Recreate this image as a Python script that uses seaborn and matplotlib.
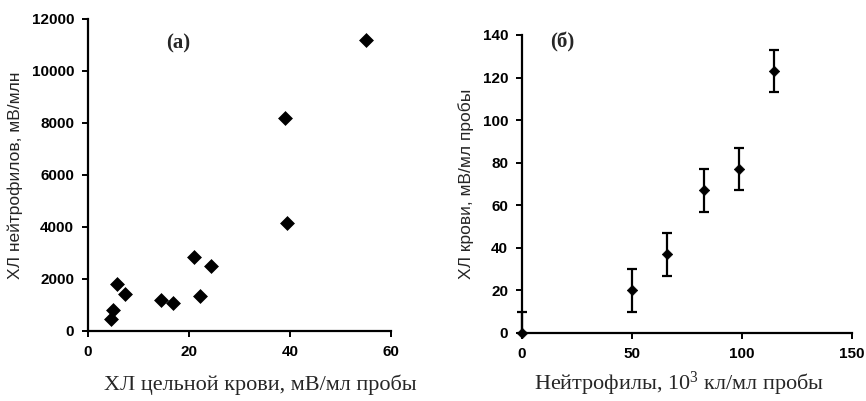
import matplotlib
matplotlib.use("Agg")
import matplotlib.pyplot as plt
import seaborn as sns
import numpy as np
import pandas as pd

# Panel (а): ХЛ цельной крови vs ХЛ нейтрофилов
a_x = [4.6, 4.9, 5.7, 7.4, 14.5, 16.8, 21.0, 22.1, 24.4, 39.0, 39.5, 55.1]
a_y = [475, 800, 1800, 1410, 1210, 1080, 2850, 1360, 2490, 8210, 4160, 11200]

# Panel (б): Нейтрофилы vs ХЛ крови, with error bars
b_x = [0, 50, 66, 82.5, 98.5, 114.5]
b_y = [0, 20, 37, 67, 77, 123]
b_err = [10, 10, 10, 10, 10, 10]

a_xticks = [0, 20, 40, 60]
a_yticks = [0, 2000, 4000, 6000, 8000, 10000, 12000]
b_xticks = [0, 50, 100, 150]
b_yticks = [0, 20, 40, 60, 80, 100, 120, 140]

sns.set_style("ticks")
plt.rcParams['font.family'] = ['Liberation Sans', 'DejaVu Sans']
plt.rcParams['mathtext.fontset'] = 'custom'
plt.rcParams['mathtext.rm'] = 'Liberation Serif'
plt.rcParams['mathtext.it'] = 'Liberation Serif:italic'
plt.rcParams['mathtext.bf'] = 'Liberation Serif:bold'

fig = plt.figure(figsize=(8.66, 4.01), dpi=100)
W, H = 866, 401
axA = fig.add_axes([88 / W, 1 - 331 / H, (391 - 88) / W, (331 - 19) / H])
axB = fig.add_axes([522 / W, 1 - 333 / H, (852 - 522) / W, (333 - 35) / H])

dfa = pd.DataFrame({"x": a_x, "y": a_y})
sns.scatterplot(data=dfa, x="x", y="y", ax=axA, marker="D", s=50,
                color="black", edgecolor="black", linewidth=0.5)
axA.set_xlim(0, 60)
axA.set_ylim(0, 12000)
axA.set_xticks(a_xticks)
axA.set_yticks(a_yticks)

dfb = pd.DataFrame({"x": b_x, "y": b_y, "e": b_err})
lower = np.minimum(dfb["e"], dfb["y"])
axB.errorbar(dfb["x"], dfb["y"], yerr=[lower, dfb["e"]], fmt="none", ecolor="black",
             elinewidth=1.6, capsize=3.5, capthick=1.6, clip_on=False)
sns.scatterplot(data=dfb, x="x", y="y", ax=axB, marker="D", s=28,
                color="black", edgecolor="black", linewidth=0.5, clip_on=False, zorder=5)
axB.set_xlim(0, 150)
axB.set_ylim(0, 140)
axB.set_xticks(b_xticks)
axB.set_yticks(b_yticks)

for ax in (axA, axB):
    sns.despine(ax=ax)
    for s in ("left", "bottom"):
        ax.spines[s].set_linewidth(1.6)
        ax.spines[s].set_color("black")
    ax.tick_params(axis="both", direction="out", length=4, width=1.4,
                   labelsize=11, colors="black", pad=6)
    for lab in ax.get_xticklabels() + ax.get_yticklabels():
        lab.set_fontweight("bold")

sans = ["Liberation Sans", "DejaVu Sans"]
serif = ["Liberation Serif", "DejaVu Serif"]
axA.set_ylabel("ХЛ нейтрофилов, мВ/млн", fontsize=12.5, family=sans, labelpad=6)
axA.set_xlabel("ХЛ цельной крови, мВ/мл пробы", fontsize=16, family=serif, va="center")
axB.set_ylabel("ХЛ крови, мВ/мл пробы", fontsize=12.5, family=sans, labelpad=6)
axB.set_xlabel("Нейтрофилы, 10$^{3}$ кл/мл пробы", fontsize=16, family=serif, va="center")
axA.xaxis.set_label_coords(0.568, -0.173)
axB.xaxis.set_label_coords(0.476, -0.172)

fig.text(178 / W, 1 - 43 / H, "(а)", fontsize=15, fontweight="bold",
         family=serif, ha="center", va="center")
fig.text(562 / W, 1 - 42 / H, "(б)", fontsize=15, fontweight="bold",
         family=serif, ha="center", va="center")

fig.savefig("out.png", dpi=100)
